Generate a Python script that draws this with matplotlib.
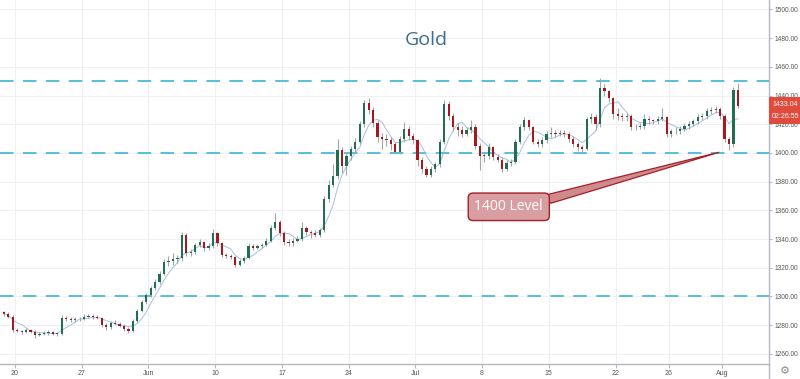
import matplotlib
matplotlib.use("Agg")
import matplotlib.pyplot as plt
import matplotlib.transforms as mtransforms
from matplotlib.patches import Polygon
import numpy as np
import pandas as pd

# ---------------- data (4h-ish bars, 3 per trading day) ----------------
opens = [
1289, 1288, 1286, 1276.5, 1276, 1275.5, 1276.5, 1275.5, 1273, 1274,
1274.5, 1275, 1274, 1274, 1285, 1284, 1283.5, 1284, 1284.5, 1286,
1286.5, 1285.5, 1285, 1280, 1278.5, 1281.5, 1281, 1279.5, 1277.5, 1276,
1283, 1290, 1296, 1301, 1306, 1310, 1316, 1324, 1325, 1326,
1326.5, 1343, 1330, 1331, 1336, 1338, 1334, 1335, 1344, 1337,
1329, 1328, 1327.5, 1322, 1325, 1327, 1335, 1334, 1335, 1336,
1339, 1348, 1352, 1344, 1338, 1337, 1339, 1340, 1348, 1345,
1344, 1343, 1346, 1368, 1378, 1384, 1402, 1391, 1398, 1403,
1408, 1420, 1435, 1430, 1421, 1411, 1410, 1409, 1406, 1401,
1410, 1417, 1412, 1409, 1395, 1389, 1385, 1389, 1392, 1408,
1434, 1426, 1418, 1416, 1413, 1416, 1418, 1405, 1398, 1398,
1404, 1397, 1395, 1389, 1393, 1394, 1408, 1418, 1423, 1418,
1408, 1406, 1409, 1413, 1414, 1413, 1414, 1413, 1410, 1406,
1404, 1403, 1424, 1425, 1420, 1445, 1443, 1438, 1427, 1426,
1425, 1426, 1418, 1418, 1419, 1424, 1423, 1422, 1424, 1425,
1413, 1415, 1415.5, 1417, 1419, 1420, 1422, 1425, 1426, 1429,
1430, 1430.5, 1426, 1410, 1406, 1444,
]
highs = [
1290, 1289, 1287, 1278, 1277, 1278, 1277.5, 1276.5, 1275.5, 1276,
1276.5, 1276, 1275.5, 1287, 1286.5, 1285.5, 1285.5, 1286, 1287.5, 1288,
1287.5, 1287, 1286, 1281.5, 1283, 1283.5, 1282, 1280.5, 1278.5, 1284,
1291, 1297.5, 1302.5, 1307.5, 1312, 1318, 1326, 1328, 1330, 1329,
1345, 1344, 1333, 1337.5, 1340, 1339, 1337, 1347, 1345, 1338,
1330.5, 1329.5, 1328.5, 1326, 1328.5, 1337, 1336.5, 1336.5, 1337.5, 1341,
1350, 1358, 1353, 1345.5, 1340, 1341, 1342, 1352, 1349, 1346.5,
1346, 1348, 1370, 1381, 1392, 1410, 1404, 1400, 1405, 1410.5,
1422, 1437, 1438, 1432, 1423, 1414, 1413, 1411, 1408, 1411.5,
1421.5, 1419, 1414, 1410, 1397, 1391, 1391, 1394, 1410, 1437,
1436, 1428, 1421, 1418.5, 1418, 1423, 1420, 1407, 1400, 1407,
1405, 1399, 1397, 1395, 1396, 1410, 1420, 1425, 1424, 1419,
1410, 1411, 1415, 1418, 1416, 1416, 1416, 1414.5, 1412, 1407.5,
1405.5, 1425, 1428, 1427, 1452, 1448, 1444, 1439, 1431, 1428,
1428, 1427, 1420, 1421, 1427, 1426, 1424, 1426, 1431, 1426,
1417, 1418, 1419, 1421, 1422, 1424, 1427, 1428, 1431, 1432,
1432.5, 1432, 1427, 1411, 1446, 1449,
]
lows = [
1286.5, 1285, 1275, 1275, 1274, 1274.5, 1274.5, 1271, 1272.5, 1273,
1273.5, 1273, 1272.5, 1273, 1283, 1282, 1282.5, 1283, 1283.5, 1285,
1284, 1284, 1279, 1276.5, 1277.5, 1280, 1278.5, 1276, 1274.5, 1275.5,
1282, 1289, 1294.5, 1299.5, 1304.5, 1309, 1315, 1321.5, 1322, 1323.5,
1325, 1328.5, 1328, 1329.5, 1334.5, 1332, 1332.5, 1333.5, 1335, 1327.5,
1326.5, 1326, 1320.5, 1321, 1323.5, 1326, 1332.5, 1333, 1334, 1335,
1338, 1346.5, 1342.5, 1336, 1335, 1335.5, 1338, 1339, 1343, 1341,
1341.5, 1341.5, 1345, 1366, 1376, 1382, 1386, 1385, 1395, 1401,
1406, 1418, 1427, 1418, 1407.5, 1403, 1405, 1402, 1399, 1399.5,
1408, 1409, 1406, 1391, 1386, 1383, 1383.5, 1387, 1390.5, 1406,
1423, 1415, 1412, 1411, 1411.5, 1414, 1402.5, 1388, 1394, 1396,
1395, 1393.5, 1387, 1387.5, 1391, 1392, 1406, 1416, 1416, 1406,
1404, 1404, 1407, 1411, 1411, 1411.5, 1411, 1408, 1404, 1401.5,
1401, 1402, 1421, 1416, 1418, 1440, 1435.5, 1424, 1423, 1422.5,
1422.5, 1416, 1416, 1416.5, 1417, 1420, 1420, 1420.5, 1422, 1411,
1411, 1413, 1413.5, 1415, 1417, 1418.5, 1420.5, 1423, 1424, 1427,
1428, 1424, 1407.5, 1402, 1404, 1431,
]
closes = [
1288, 1286, 1276.5, 1276, 1275.5, 1276.5, 1275.5, 1273, 1274, 1274.5,
1275, 1274, 1274, 1285, 1284, 1283.5, 1284, 1284.5, 1286, 1286.5,
1285.5, 1285, 1280, 1278.5, 1281.5, 1281, 1279.5, 1277.5, 1276, 1283,
1290, 1296, 1301, 1306, 1310, 1316, 1324, 1325, 1326, 1326.5,
1343, 1330, 1331, 1336, 1338, 1334, 1335, 1344, 1337, 1329,
1328, 1327.5, 1322, 1325, 1327, 1335, 1334, 1335, 1336, 1339,
1348, 1352, 1344, 1338, 1337, 1339, 1340, 1348, 1345, 1344,
1343, 1346, 1368, 1378, 1384, 1402, 1391, 1398, 1403, 1408,
1420, 1435, 1430, 1421, 1411, 1410, 1409, 1406, 1401, 1410,
1417, 1412, 1409, 1395, 1389, 1385, 1389, 1392, 1408, 1434,
1426, 1418, 1416, 1413, 1416, 1418, 1405, 1398, 1398, 1404,
1397, 1395, 1389, 1393, 1394, 1408, 1418, 1423, 1418, 1408,
1406, 1409, 1413, 1414, 1413, 1414, 1413, 1410, 1406, 1404,
1403, 1424, 1425, 1420, 1445, 1443, 1438, 1427, 1426, 1425,
1426, 1418, 1418, 1419, 1424, 1423, 1422, 1424, 1425, 1413,
1415, 1415.5, 1417, 1419, 1420, 1422, 1425, 1426, 1429, 1430,
1430.5, 1426, 1410, 1406, 1444, 1433.04,
]

# date axis: label and trading-day offset from May 20 (3 bars per day, 3 bars before May 20)
date_labels = ["20", "27", "Jun", "10", "17", "24", "Jul", "8", "15", "22", "26", "Aug"]
date_day_offsets = [0, 5, 10, 15, 20, 25, 30, 35, 40, 45, 49, 53]
bars_per_day = 3
bars_before_first = 3

levels = [1450, 1400, 1300]
price_ticks = list(range(1260, 1501, 20))
last_price = 1433.04
countdown = "02:26:55"
title = "Gold"
annot_text = "1400 Level"
annot_target = (160.8, 1400.5)
annot_center = (113.5, 1362.5)

# ---------------- style ----------------
UP = "#226e52"
DOWN = "#a3191f"
WICK = "#a6a6a6"
LEVEL = "#4bbad6"
GRID = "#eef0f4"
AXC = "#b5b8bf"
TXT = "#555555"

fig = plt.figure(figsize=(8.0, 3.79), dpi=100)
ax = fig.add_axes([0, 15 / 379, 769 / 800, 364 / 379])

o = np.array(opens); h = np.array(highs); l = np.array(lows); c = np.array(closes)
x = np.arange(len(c))
up = c >= o

# grid
tick_pos = [bars_before_first - 0.5 + bars_per_day * d for d in date_day_offsets]
for tp in tick_pos:
    ax.axvline(tp, color=GRID, lw=0.8, zorder=0)
for pt in price_ticks:
    ax.axhline(pt, color=GRID, lw=0.8, zorder=0)

# level lines
for lv in levels:
    ax.axhline(lv, color=LEVEL, lw=1.3, ls=(0, (7.5, 5.2)), zorder=1)

# moving average
ma = pd.Series(c).rolling(5, min_periods=1).mean()
ax.plot(x, ma, color="#8fb0d8", lw=0.7, alpha=0.8, zorder=2)

# candles
ax.vlines(x, l, h, color=WICK, lw=0.8, zorder=3)
body_bottom = np.minimum(o, c)
body_h = np.maximum(np.abs(c - o), 0.4)
ax.bar(x[up], body_h[up], bottom=body_bottom[up], width=0.5, color=UP, zorder=4, linewidth=0)
ax.bar(x[~up], body_h[~up], bottom=body_bottom[~up], width=0.5, color=DOWN, zorder=4, linewidth=0)

# limits
ax.set_xlim(-0.88, 172.0)
ax.set_ylim(1252.96, 1506.6)

# axes styling
for s in ["left", "top"]:
    ax.spines[s].set_visible(False)
for s in ["right", "bottom"]:
    ax.spines[s].set_color(AXC)
    ax.spines[s].set_linewidth(1.0)
ax.yaxis.tick_right()
ax.set_yticks(price_ticks)
ax.set_yticklabels([f"{p:.2f}" for p in price_ticks])
ax.set_xticks(tick_pos)
ax.set_xticklabels(date_labels)
ax.tick_params(axis="y", length=2.5, width=0.8, color=AXC, labelsize=4.8, labelcolor=TXT, pad=1.2)
ax.tick_params(axis="x", length=3, width=0.8, color=AXC, labelsize=5.0, labelcolor=TXT, pad=1.5)
for lab in ax.get_xticklabels() + ax.get_yticklabels():
    lab.set_family("Liberation Sans")

# title
ax.text(0.555, 0.89, title, transform=ax.transAxes, ha="center", va="center",
        fontsize=14, color="#3f6d8e", family="Open Sans")

# callout wedge + box
tx, ty = annot_target
cx, cy = annot_center
wedge = Polygon([(cx + 7.5, cy + 7.6), (cx + 9.5, cy + 2.5), (tx, ty)], closed=True,
                fc="#cf8a8d", ec="#a51f27", lw=0.9, zorder=6)
ax.add_patch(wedge)
ax.text(cx, cy, annot_text, ha="center", va="center", fontsize=10, color="white",
        family="Open Sans", zorder=7,
        bbox=dict(boxstyle="round,pad=0.45,rounding_size=0.35", fc="#d99ea1", ec="#a51f27", lw=1.0))

# price labels on the right axis
trans = mtransforms.blended_transform_factory(ax.transAxes, ax.transData)
ax.text(1.004, last_price + 0.8, f"{last_price:.2f}", transform=trans, ha="left", va="center",
        fontsize=5.0, color="white", family="Liberation Sans", clip_on=False, zorder=10,
        bbox=dict(boxstyle="square,pad=0.5", fc="#e04b3c", ec="none"))
ax.text(1.004, last_price - 7.8, countdown, transform=trans, ha="left", va="center",
        fontsize=5.0, color="white", family="Liberation Sans", clip_on=False, zorder=10,
        bbox=dict(boxstyle="square,pad=0.5", fc="#e04b3c", ec="none"))

# right axis separator extension and settings icon
fig.add_artist(plt.Line2D([769 / 800, 769 / 800], [0, 15 / 379], color=AXC, lw=1.0))
fig.text(785 / 800, 1 - 371 / 379, "\u2699", ha="center", va="center", fontsize=8,
         color="#8a8a8a", family="DejaVu Sans")

fig.savefig("out.png", dpi=100, facecolor="white")
